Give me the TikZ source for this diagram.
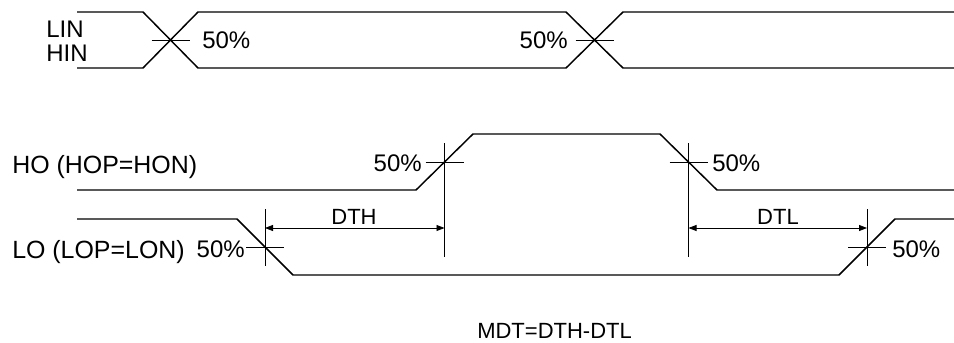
\documentclass[tikz,border=0pt]{standalone}
\usepackage{fontspec}
\setmainfont{Liberation Sans}
\usetikzlibrary{arrows.meta}

\begin{document}
\begin{tikzpicture}[x=0.75pt, y=-0.75pt,
        sig/.style={black, line width=1.1pt},
        mark50/.style={black, line width=0.6pt},
        dimline/.style={black, line width=0.6pt, {Triangle[length=6pt,width=4.5pt]}-{Triangle[length=6pt,width=4.5pt]}},
        lbl/.style={inner sep=0pt, font=\fontsize{18pt}{21pt}\selectfont},
        siglbl/.style={inner sep=0pt, font=\fontsize{18.7pt}{22pt}\selectfont},
        dimlbl/.style={inner sep=0pt, font=\fontsize{16.5pt}{20pt}\selectfont}]
        \useasboundingbox (0,0) rectangle (954,343);

        % input pair
        \draw [sig] (77,12) -- (143,12) -- (198,68) -- (566,68) -- (623,12) -- (954,12);
        \draw [sig] (77,68) -- (143,68) -- (198,12) -- (566,12) -- (623,68) -- (954,68);

        % HO and LO
        \draw [sig] (77,190) -- (416,190) -- (473,134) -- (660,134) -- (717,190) -- (954,190);
        \draw [sig] (77,219) -- (237,219) -- (293,275) -- (839,275) -- (895,219) -- (954,219);

        % 50% points
        \coordinate (in1) at (170.5,40);
        \coordinate (in2) at (594.5,40);
        \coordinate (hor) at (444.5,162);
        \coordinate (hof) at (688.5,162);
        \coordinate (lof) at (265,247);
        \coordinate (lor) at (867,247);
        \coordinate (dimy) at (0,228);

        \draw [mark50] (in1) ++(-19,0) -- ++(38,0);
        \draw [mark50] (in2) ++(-19,0) -- ++(38,0);
        \draw [mark50] (hor) ++(-19,0) -- ++(38,0);
        \draw [mark50] (hof) ++(-19,0) -- ++(38,0);
        \draw [mark50] (lof) ++(-19,0) -- ++(38,0);
        \draw [mark50] (lor) ++(-19,0) -- ++(38,0);

        \draw [mark50] (hor) ++(0,-19) -- ++(0,114);
        \draw [mark50] (hof) ++(0,-19) -- ++(0,114);
        \draw [mark50] (lof) ++(0,-38) -- ++(0,57);
        \draw [mark50] (lor) ++(0,-38) -- ++(0,57);

        % dead times
        \draw [dimline] (lof |- dimy) -- (hor |- dimy);
        \draw [dimline] (hof |- dimy) -- (lor |- dimy);

        % labels
        \node [lbl, anchor=base west] (lin) at (46,37) {LIN};
        \node [lbl, anchor=base west] (hin) at (46,61) {HIN};
        \node [siglbl, anchor=base west] (ho) at (12,173) {HO (HOP=HON)};
        \node [siglbl, anchor=base west] (lo) at (12,258) {LO (LOP=LON)};

        \node [lbl, anchor=base west] (p1) at (202,48) {50\%};
        \node [lbl, anchor=base east] (p2) at (568,48) {50\%};
        \node [lbl, anchor=base east] (p3) at (422,171) {50\%};
        \node [lbl, anchor=base west] (p4) at (712,171) {50\%};
        \node [lbl, anchor=base east] (p5) at (245,257) {50\%};
        \node [lbl, anchor=base west] (p6) at (892,257) {50\%};

        \node [dimlbl, anchor=base] (dth) at (354,224) {DTH};
        \node [dimlbl, anchor=base] (dtl) at (778,224) {DTL};
        \node [dimlbl, anchor=base west] (mdt) at (477,338) {MDT=DTH-DTL};
\end{tikzpicture}
\end{document}
